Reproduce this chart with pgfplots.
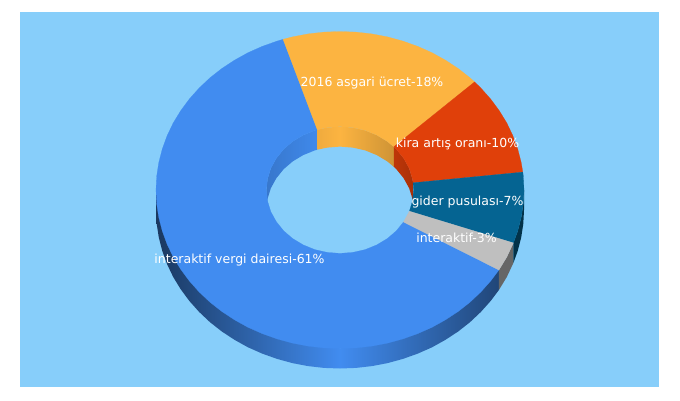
\documentclass[border=0pt]{standalone}
\usepackage{fontspec}
\setmainfont{DejaVu Sans}
\usepackage{pgfplots}
\pgfplotsset{compat=1.18}
\definecolor{sky}{HTML}{87CEFA}
\definecolor{cblue}{HTML}{418CF0}
\definecolor{corange}{HTML}{FCB441}
\definecolor{cred}{HTML}{E0400A}
\definecolor{cdark}{HTML}{056492}
\definecolor{cgray}{HTML}{BFBFBF}
\newcommand{\lab}[2]{\node[text=white,inner sep=0pt,anchor=center,font=\fontsize{12.5}{14}\selectfont] at (axis cs:#1) {#2};}
\begin{document}
\begin{tikzpicture}
\begin{axis}[width=680pt,height=400pt,scale only axis,xmin=0,xmax=680,ymin=-0.5,ymax=399.5,y dir=reverse,hide axis,
  every axis plot/.append style={mark=none}]
% page and panel
\addplot[draw=none,fill=white] coordinates {(0,-0.5)(680,-0.5)(680,399.5)(0,399.5)} -- cycle;
\addplot[draw=none,fill=sky] coordinates {(20,11.5)(659,11.5)(659,386.5)(20,386.5)} -- cycle;
% outer side, blue, left part
\addplot[draw=none,left color=cblue!40!black,right color=cblue] coordinates {
(156,189.5)(156,209.5)(156.7,223.3)(158.8,237.0)(162.3,250.5)(167.1,263.7)(173.2,276.5)(180.7,288.75)(189.3,300.4)(199.1,311.4)(209.9,321.6)(221.7,330.9)(234.5,339.3)(248.0,346.8)(262.2,353.1)(277.1,358.4)(292.4,362.6)(308.1,365.6)(324.0,367.4)(340,368)(340,348)} -- cycle;
% outer side, blue, right part
\addplot[draw=none,left color=cblue,right color=cblue!50!black] coordinates {
(340,368)(356.0,367.4)(371.9,365.6)(387.6,362.6)(402.9,358.4)(417.8,353.1)(432.0,346.8)(445.5,339.3)(458.3,330.9)(470.1,321.6)(480.9,311.4)(490.7,300.4)(498.9,289.5)(498.9,269.5)(340,348)} -- cycle;
% outer side, gray
\addplot[draw=none,fill=black!60] coordinates {
(498.9,269.5)(506.8,256.5)(513.4,242.4)(513.4,262.4)(506.8,276.5)(498.9,289.5)} -- cycle;
% outer side, dark blue
\addplot[draw=none,fill=cdark!50!black] coordinates {
(524,189.5)(523.3,203.3)(521.2,217.0)(517.7,230.5)(513.4,242.4)(513.4,262.4)(517.7,250.5)(521.2,237.0)(523.3,223.3)(524,209.5)} -- cycle;
% inner wall, blue
\addplot[draw=none,left color=cblue!85!black,right color=cblue!98!black] coordinates {
(317.3,129.2)(314.8,129.9)(303.2,134.6)(292.7,140.9)(283.6,148.7)(276.3,157.8)(270.8,167.8)(267.5,178.5)(266.4,189.5)(266.4,209.5)(267.5,198.5)(270.8,187.8)(276.3,177.8)(283.6,168.7)(292.7,160.9)(303.2,154.6)(314.8,149.9)(317.3,149.2)} -- cycle;
% inner wall, orange
\addplot[draw=none,left color=corange!95!black,right color=corange] coordinates {
(317.3,129.2)(327.2,127.1)(340,126.1)(340,146.1)(327.2,147.1)(317.3,149.2)} -- cycle;
\addplot[draw=none,left color=corange,right color=corange!82!black] coordinates {
(340,126.1)(352.8,127.1)(365.2,129.9)(376.8,134.6)(387.3,140.9)(393.8,146.3)(393.8,166.3)(387.3,160.9)(376.8,154.6)(365.2,149.9)(352.8,147.1)(340,146.1)} -- cycle;
% inner wall, red
\addplot[draw=none,left color=cred!85!black,right color=cred!75!black] coordinates {
(393.8,146.3)(396.4,148.7)(403.7,157.8)(409.2,167.8)(412.5,178.5)(413.1,182.3)(413.1,202.3)(412.5,198.5)(409.2,187.8)(403.7,177.8)(396.4,168.7)(393.8,166.3)} -- cycle;
% top face, blue
\addplot[draw=cblue,line width=0.2pt,fill=cblue] coordinates {
(498.9,269.5)(490.7,280.4)(480.9,291.4)(470.1,301.6)(458.3,310.9)(445.5,319.3)(432.0,326.8)(417.8,333.1)(402.9,338.4)(387.6,342.6)(371.9,345.6)(356.0,347.4)(340,348.0)(324.0,347.4)(308.1,345.6)(292.4,342.6)(277.1,338.4)(262.2,333.1)(248.0,326.8)(234.5,319.3)(221.7,310.9)(209.9,301.6)(199.1,291.4)(189.3,280.4)(180.7,268.75)(173.2,256.5)(167.1,243.7)(162.3,230.5)(158.8,217.0)(156.7,203.3)(156,189.5)(156.7,175.7)(158.8,162.0)(162.3,148.5)(167.1,135.3)(173.2,122.5)(180.7,110.25)(189.3,98.6)(199.1,87.6)(209.9,77.4)(221.7,68.1)(234.5,59.7)(248.0,52.2)(262.2,45.9)(277.1,40.6)(283.1,38.8)
(317.3,129.2)(314.8,129.9)(303.2,134.6)(292.7,140.9)(283.6,148.7)(276.3,157.8)(270.8,167.8)(267.5,178.5)(266.4,189.5)(267.5,200.5)(270.8,211.2)(276.3,221.2)(283.6,230.3)(292.7,238.1)(303.2,244.4)(314.8,249.1)(327.2,251.9)(340,252.9)(352.8,251.9)(365.2,249.1)(376.8,244.4)(387.3,238.1)(396.4,230.3)(403.5,221.5)} -- cycle;
% top face, orange
\addplot[draw=corange,line width=0.2pt,fill=corange] coordinates {
(283.1,38.8)(292.4,36.4)(308.1,33.4)(324.0,31.6)(340,31.0)(356.0,31.6)(371.9,33.4)(387.6,36.4)(402.9,40.6)(417.8,45.9)(432.0,52.2)(445.5,59.7)(458.3,68.1)(470.1,77.4)(474.6,81.4)
(393.8,146.3)(387.3,140.9)(376.8,134.6)(365.2,129.9)(352.8,127.1)(340,126.1)(327.2,127.1)(317.3,129.2)} -- cycle;
% top face, red
\addplot[draw=cred,line width=0.2pt,fill=cred] coordinates {
(474.6,81.4)(480.9,87.6)(490.7,98.6)(499.3,110.25)(506.8,122.5)(512.9,135.3)(517.7,148.5)(521.2,162.0)(522.8,171.6)
(413.1,182.3)(412.5,178.5)(409.2,167.8)(403.7,157.8)(396.4,148.7)(393.8,146.3)} -- cycle;
% top face, dark blue
\addplot[draw=cdark,line width=0.2pt,fill=cdark] coordinates {
(522.8,171.6)(523.3,175.7)(524,189.5)(523.3,203.3)(521.2,217.0)(517.7,230.5)(513.4,242.4)
(409.4,210.7)(412.5,200.5)(413.6,189.5)(413.1,182.3)} -- cycle;
% top face, gray
\addplot[draw=cgray,line width=0.2pt,fill=cgray] coordinates {
(513.4,242.4)(506.8,256.5)(498.9,269.5)(403.5,221.5)(409.4,210.7)} -- cycle;
% labels
\lab{372,83}{2016 asgari ücret-18\%}
\lab{457.5,143}{kira artış oranı-10\%}
\lab{467.5,202}{gider pusulası-7\%}
\lab{456.5,237}{interaktif-3\%}
\lab{239.5,260}{interaktif vergi dairesi-61\%}
\end{axis}
\end{tikzpicture}
\end{document}
